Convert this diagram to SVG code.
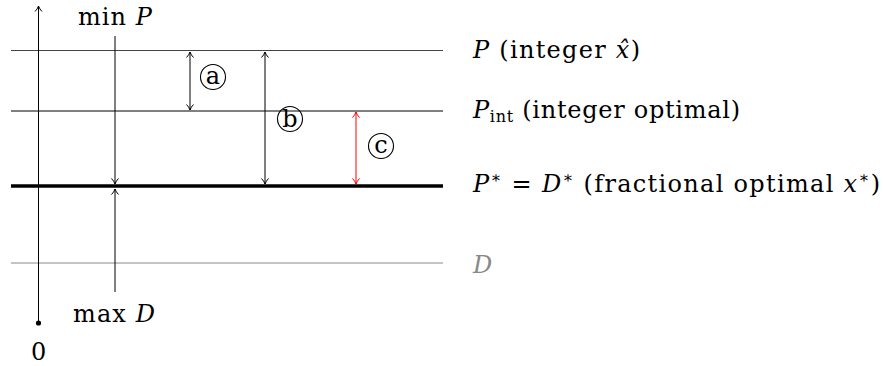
<svg xmlns="http://www.w3.org/2000/svg" width="883" height="366" viewBox="0 0 883 366" font-family="'DejaVu Serif', 'Liberation Serif', serif">
<style>
text{font-size:24px;fill:#000}
.it{font-style:italic}
.ln{stroke:#000;stroke-width:1;fill:none}
.circ{fill:none;stroke:#000;stroke-width:1.1}
.sup{font-size:16px}
</style>
<defs>
<marker id="ah" markerWidth="10" markerHeight="10" refX="8" refY="5" orient="auto-start-reverse" markerUnits="userSpaceOnUse">
<path d="M2.5,1.5 Q5,4 8,5 Q5,6 2.5,8.5" fill="none" stroke="#000" stroke-width="1"/>
</marker>
<marker id="ahr" markerWidth="10" markerHeight="10" refX="8" refY="5" orient="auto-start-reverse" markerUnits="userSpaceOnUse">
<path d="M2.5,1.5 Q5,4 8,5 Q5,6 2.5,8.5" fill="none" stroke="#f00" stroke-width="1"/>
</marker>
</defs>
<g id="levels">
<line x1="11" y1="50.5" x2="443" y2="50.5" stroke="#444" stroke-width="1"/>
<line x1="11" y1="111" x2="443" y2="111" stroke="#000" stroke-width="1"/>
<line x1="11" y1="186" x2="443" y2="186" stroke="#000" stroke-width="3.5"/>
<line x1="11" y1="263" x2="443" y2="263" stroke="#888" stroke-width="1"/>
</g>
<g id="axis">
<line x1="38.5" y1="323" x2="38.5" y2="6" class="ln" stroke="#333" marker-end="url(#ah)"/>
<circle cx="38.5" cy="323" r="2.6" fill="#000"/>
<text x="31" y="360">0</text>
</g>
<g id="connectors">
<line x1="115" y1="36" x2="115" y2="184" class="ln" marker-end="url(#ah)"/>
<line x1="115" y1="292" x2="115" y2="189" class="ln" marker-end="url(#ah)"/>
<line x1="190" y1="52" x2="190" y2="110" class="ln" marker-start="url(#ah)" marker-end="url(#ah)"/>
<line x1="265" y1="52" x2="265" y2="184" class="ln" stroke="#444" marker-start="url(#ah)" marker-end="url(#ah)"/>
<line x1="356" y1="112" x2="356" y2="184" stroke="#f00" stroke-width="1" marker-start="url(#ahr)" marker-end="url(#ahr)"/>
</g>
<g id="minP"><text x="78" y="25" textLength="74" lengthAdjust="spacing">min <tspan class="it">P</tspan></text></g>
<g id="maxD"><text x="73" y="322" textLength="82" lengthAdjust="spacing">max <tspan class="it">D</tspan></text></g>
<g id="label-a"><circle cx="213" cy="77" r="12.5" class="circ"/><text x="213" y="84" text-anchor="middle">a</text></g>
<g id="label-b"><circle cx="290" cy="119" r="12.5" class="circ"/><text x="290" y="127" text-anchor="middle">b</text></g>
<g id="label-c"><circle cx="381" cy="146" r="12.5" class="circ"/><text x="381" y="153" text-anchor="middle">c</text></g>
<g id="lab-P"><text x="473" y="58" textLength="167" lengthAdjust="spacing"><tspan class="it">P</tspan> (integer <tspan class="it">x̂</tspan>)</text></g>
<g id="lab-Pint"><text x="473" y="118" textLength="267" lengthAdjust="spacing"><tspan class="it">P</tspan><tspan class="sup" dy="4">int</tspan><tspan dy="-4"> (integer optimal)</tspan></text></g>
<g id="lab-Pstar"><text x="473" y="192" textLength="407" lengthAdjust="spacing"><tspan class="it">P</tspan><tspan class="sup" dy="-9">∗</tspan><tspan dy="9"> = </tspan><tspan class="it">D</tspan><tspan class="sup" dy="-9">∗</tspan><tspan dy="9"> (fractional optimal </tspan><tspan class="it">x</tspan><tspan class="sup" dy="-9">∗</tspan><tspan dy="9">)</tspan></text></g>
<g id="lab-D"><text x="473" y="273" class="it" style="fill:#888">D</text></g>
</svg>
